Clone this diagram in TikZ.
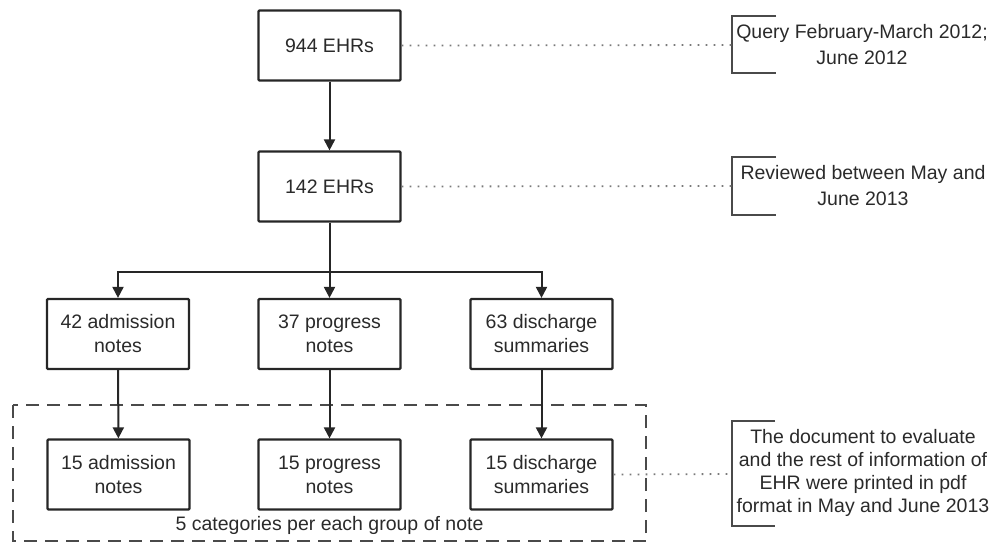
\documentclass[tikz,border=0pt]{standalone}
\usepackage{fontspec}
\setmainfont{Liberation Sans}
\usetikzlibrary{arrows.meta}
\definecolor{ink}{HTML}{262626}
\definecolor{txt}{HTML}{2A2A2A}
\definecolor{guide}{HTML}{7A7A7A}
\definecolor{frame}{HTML}{4A4A4A}
\tikzset{
  stagebox/.style={draw=ink, line width=2.2pt, rounded corners=1pt, minimum width=142pt,
    minimum height=70pt, align=center, text=txt, inner sep=0pt,
    font=\fontsize{19.5}{24}\selectfont},
  flow/.style={draw=ink, line width=2pt, -{Triangle[width=11pt,length=11pt]}},
  guideline/.style={draw=guide, line width=1.8pt, dash pattern=on 1.8pt off 6.2pt},
  bracket/.style={draw=frame, line width=2.4pt},
  note/.style={align=center, text=txt, inner sep=0pt},
  groupframe/.style={draw=frame, line width=2.8pt, dash pattern=on 13pt off 8pt}
}
\begin{document}
\begin{tikzpicture}[x=1pt,y=-1pt]
\useasboundingbox (0,0) rectangle (998,544);

% dashed frame around the sampled notes
\draw[groupframe] (13,405) rectangle (646,541);
\node[note, font=\fontsize{19.5}{24}\selectfont] (grp) at (329.5,525) {5 categories per each group of note};

% record selection
\node[stagebox] (b944) at (329.5,45.5) {944 EHRs};
\node[stagebox] (b142) at (329.5,186.5) {142 EHRs};

% note types
\node[stagebox] (a42) at (118,334) {42 admission\\notes};
\node[stagebox] (p37) at (329.5,334) {37 progress\\notes};
\node[stagebox] (d63) at (541.5,334) {63 discharge\\summaries};

% sampled notes
\node[stagebox] (a15) at (118.5,474.5) {15 admission\\notes};
\node[stagebox] (p15) at (329.5,474.5) {15 progress\\notes};
\node[stagebox] (d15) at (541.5,474.5) {15 discharge\\summaries};

% connectors
\draw[flow] (b944) -- (b142);
\coordinate (split) at (329.5,272);
\draw[draw=ink, line width=2pt] (b142.south) -- (split);
\draw[flow] (split) -| (a42.north);
\draw[flow] (split) -- (p37.north);
\draw[flow] (split) -| (d63.north);
\draw[flow] (a42) -- (a15);
\draw[flow] (p37) -- (p15);
\draw[flow] (d63) -- (d15);

% annotations
\node[note, font=\fontsize{19.5}{26}\selectfont] (n1) at (862,45) {Query February-March 2012;\\June 2012};
\node[note, font=\fontsize{19.5}{26}\selectfont] (n2) at (863,186) {Reviewed between May and\\June 2013};
\node[note, font=\fontsize{19.5}{23}\selectfont] (n3) at (863,473) {The document to evaluate\\and the rest of information of\\EHR were printed in pdf\\format in May and June 2013};

\coordinate (k1) at (732,45);
\coordinate (k2) at (732,186);
\coordinate (k3) at (732,474);
\draw[bracket] (776,16) -- (732,16) -- (732,73) -- (776,73);
\draw[bracket] (776,157) -- (732,157) -- (732,215) -- (776,215);
\draw[bracket] (775,421) -- (732,421) -- (732,526) -- (775,526);

\draw[guideline] (b944.east) -- (k1);
\draw[guideline] (b142.east) -- (k2);
\draw[guideline] (d15.east) -- (k3);
\end{tikzpicture}
\end{document}
